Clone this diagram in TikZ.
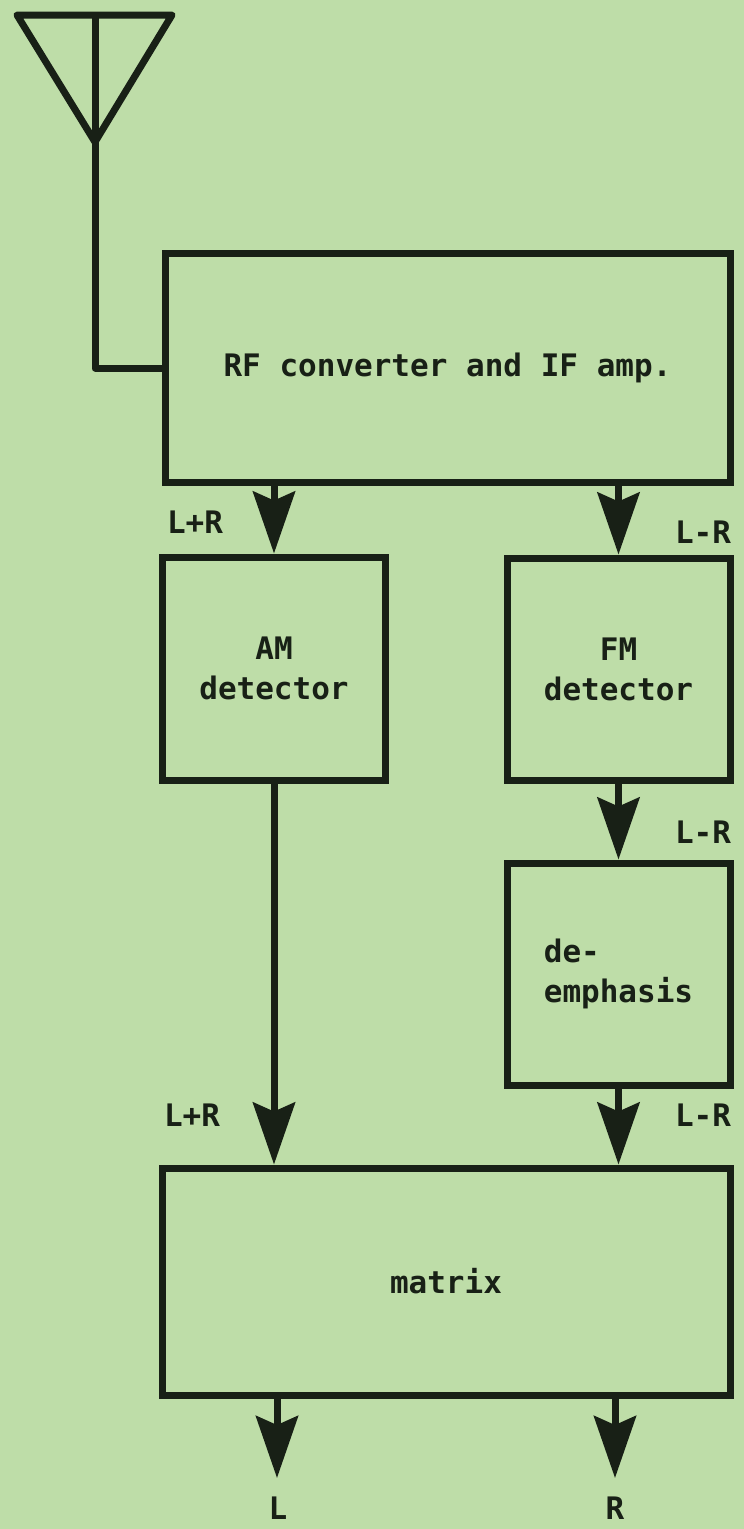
\documentclass[tikz,border=0pt]{standalone}
\usepackage{fontspec}
\setmonofont{DejaVu Sans Mono}
\usetikzlibrary{arrows.meta}
\newcommand{\XL}{274}
\newcommand{\XR}{618.5}
\newcommand{\BW}{223pt}
\definecolor{rxpaper}{RGB}{190,221,168}
\definecolor{rxink}{RGB}{24,32,22}

\begin{document}
\begin{tikzpicture}[
    x=1pt, y=-1pt,
    >={Stealth[length=62pt,width=42pt,inset=9pt]},
    wire/.style={draw=rxink, line width=7pt},
    sig/.style={wire, ->},
    blk/.style={draw=rxink, line width=7pt, inner sep=0pt, text=rxink,
      font=\ttfamily\bfseries\fontsize{31}{40}\selectfont, align=center},
    tag/.style={text=rxink, inner sep=0pt, font=\ttfamily\bfseries\fontsize{31}{40}\selectfont},
  ]

  \fill[rxpaper] (0,0) rectangle (744,1529);
  \useasboundingbox (0,0) rectangle (744,1529);

  % blocks
  \node[blk, minimum width=565pt, minimum height=229pt] (rf) at (447.5,368) {RF converter and IF amp.};
  \node[blk, minimum width=\BW, minimum height=223pt] (am) at (\XL,668.5) {AM\\detector};
  \node[blk, minimum width=\BW, minimum height=222pt] (fm) at (\XR,669) {FM\\detector};
  \node[blk, minimum width=\BW, minimum height=222pt, align=left] (de) at (\XR,974) {de-\\emphasis};
  \node[blk, minimum width=568pt, minimum height=227pt] (mx) at (446,1281.5) {matrix};

  % antenna
  \coordinate (ant1) at (17,15);
  \coordinate (ant2) at (172,15);
  \coordinate (ant0) at (95,142);
  \draw[wire, line join=round] (ant1) -- (ant2) -- (ant0) -- cycle;
  \draw[wire] (ant0 |- ant1) -- (ant0);
  \draw[wire, line join=round] (ant0) |- (rf.west);

  % signal paths
  \draw[sig] (am.north |- rf.south) -- (am.north);
  \draw[sig] (fm.north |- rf.south) -- (fm.north);
  \draw[sig] (fm.south) -- (de.north);
  \draw[sig] (am.south) -- (am.south |- mx.north);
  \draw[sig] (de.south) -- (de.south |- mx.north);

  \coordinate (outl) at (277,1478);
  \coordinate (outr) at (615,1478);
  \draw[sig] (outl |- mx.south) -- (outl);
  \draw[sig] (outr |- mx.south) -- (outr);

  % labels
  \node[tag] (sum1) at (195,522) {L+R};
  \node[tag] (dif1) at (703,532) {L-R};
  \node[tag] (dif2) at (703,832) {L-R};
  \node[tag] (sum2) at (192,1115) {L+R};
  \node[tag] (dif3) at (703,1115) {L-R};
  \node[tag] (lout) at (278,1508) {L};
  \node[tag] (rout) at (615,1508) {R};

\end{tikzpicture}
\end{document}
